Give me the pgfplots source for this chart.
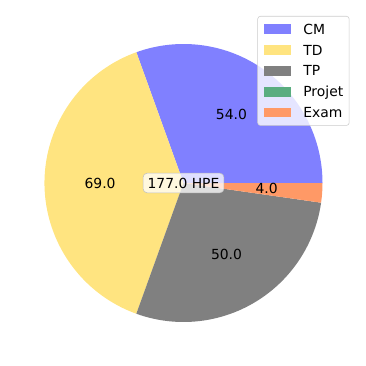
\documentclass[border=0pt]{standalone}
\usepackage{pgfplots}
\usepackage{pgfplotstable}
\pgfplotsset{compat=1.18}
\usepackage{fontspec}
\setmainfont{DejaVu Sans}
\definecolor{cCM}{HTML}{8080FF}
\definecolor{cTD}{HTML}{FFE480}
\definecolor{cTP}{HTML}{808080}
\definecolor{cPR}{HTML}{5AAD80}
\definecolor{cEX}{HTML}{FF9966}
\pgfplotstableread{
label value colour
CM 54 cCM
TD 69 cTD
TP 50 cTP
Projet 0 cPR
Exam 4 cEX
}\piedata
\def\R{100.08pt}
\begin{document}
\begin{tikzpicture}
\begin{axis}[
  scale only axis, width=263.52pt, height=263.52pt,
  xmin=-1.3201, xmax=1.3129, ymin=-1.3165, ymax=1.3165,
  hide axis, clip=false,
  legend image code/.code={\path[#1, draw=none, fill opacity=1, sharp corners] (0pt,-3.5pt) rectangle (20pt,3.5pt);},
  legend style={at={(rel axis cs:0.9549,0.9563)}, anchor=north east,
    fill=white, fill opacity=0.8, text opacity=1, draw=black!20,
    rounded corners=2pt, font=\fontsize{10}{12}\selectfont,
    inner xsep=4.3pt, inner ysep=1.8pt,
    nodes={text height=11.15pt, text depth=3.85pt, inner ysep=0pt, inner xsep=0pt},
    /tikz/every odd column/.append style={column sep=8.6pt},
    row sep=0pt},
  legend cell align=left,
]
\addlegendimage{fill=cCM}\addlegendentry{CM}
\addlegendimage{fill=cTD}\addlegendentry{TD}
\addlegendimage{fill=cTP}\addlegendentry{TP}
\addlegendimage{fill=cPR}\addlegendentry{Projet}
\addlegendimage{fill=cEX}\addlegendentry{Exam}
\pgfplotsextra{
  \path (rel axis cs:0,0) rectangle (rel axis cs:1,1);
  \pgfplotstablegetrowsof{\piedata}\pgfmathtruncatemacro\N{\pgfplotsretval-1}
  \gdef\total{0}
  \foreach \i in {0,...,\N}{%
    \pgfplotstablegetelem{\i}{value}\of\piedata
    \pgfmathsetmacro\t{\total+\pgfplotsretval}\global\let\total\t}
  \gdef\startang{0}
  \foreach \i in {0,...,\N}{%
    \pgfplotstablegetelem{\i}{value}\of\piedata \let\v\pgfplotsretval
    \pgfplotstablegetelem{\i}{colour}\of\piedata \let\c\pgfplotsretval
    \pgfmathsetmacro\endang{\startang+\v/\total*360}
    \pgfmathsetmacro\xa{cos(\startang)}\pgfmathsetmacro\ya{sin(\startang)}
    \ifdim\v pt>0pt
      \fill[fill=\c] (axis cs:0,0) -- (axis cs:\xa,\ya) arc[start angle=\startang,end angle=\endang,radius=\R] -- cycle;
    \fi
    \global\let\startang\endang
  }
  \gdef\startang{0}
  \foreach \i in {0,...,\N}{%
    \pgfplotstablegetelem{\i}{value}\of\piedata \let\v\pgfplotsretval
    \pgfmathsetmacro\endang{\startang+\v/\total*360}
    \pgfmathsetmacro\mid{(\startang+\endang)/2}
    \pgfmathsetmacro\xm{0.6*cos(\mid)}\pgfmathsetmacro\ym{0.6*sin(\mid)}
    \ifdim\v pt>0pt
      \node[font=\fontsize{10}{12}\selectfont] at (axis cs:\xm,\ym) {\pgfmathprintnumber[fixed,fixed zerofill,precision=1,assume math mode=true]{\v}};
    \fi
    \global\let\startang\endang
  }
  \node[font=\fontsize{10}{12}\selectfont, fill=white, fill opacity=0.75, text opacity=1, draw=black!25, rounded corners=3pt, inner sep=3.3pt] at (axis cs:0,0) {\pgfmathprintnumber[fixed,fixed zerofill,precision=1,assume math mode=true]{\total}~HPE};
}
\end{axis}
\end{tikzpicture}
\end{document}
